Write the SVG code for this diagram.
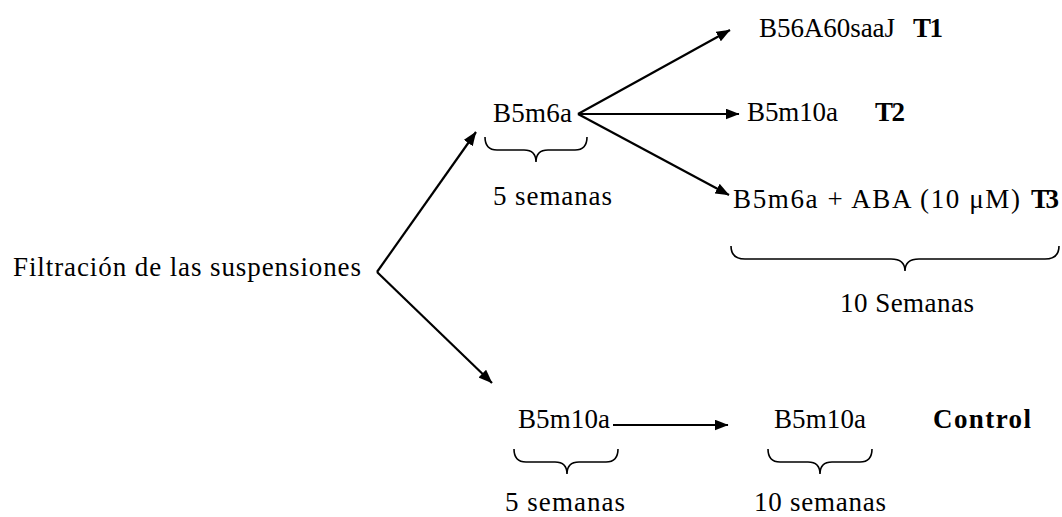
<svg xmlns="http://www.w3.org/2000/svg" width="1062" height="517" viewBox="0 0 1062 517">
  <style>
    text { font-family: "Liberation Serif", "DejaVu Serif", serif; font-size: 27px; fill: #000; }
    .b { font-weight: bold; }
    .line { stroke: #000; stroke-width: 2.2; fill: none; }
    .brace { stroke: #000; stroke-width: 1.6; fill: none; }
  </style>
  <defs>
    <marker id="arrow" viewBox="0 0 14 11" refX="13.5" refY="5.5" markerWidth="14" markerHeight="11" markerUnits="userSpaceOnUse" orient="auto">
      <path d="M0,0 L14,5.5 L0,11 Z" fill="#000"/>
    </marker>
  </defs>

  <rect width="1062" height="517" fill="#fff"/>

  <!-- connectors -->
  <g id="connectors">
    <line class="line" x1="377" y1="272" x2="476" y2="132" marker-end="url(#arrow)"/>
    <line class="line" x1="377" y1="272" x2="492" y2="383" marker-end="url(#arrow)"/>
    <line class="line" x1="578" y1="114" x2="730" y2="30" marker-end="url(#arrow)"/>
    <line class="line" x1="578" y1="114" x2="739" y2="114" marker-end="url(#arrow)"/>
    <line class="line" x1="578" y1="114" x2="729" y2="195" marker-end="url(#arrow)"/>
    <line class="line" x1="613" y1="425" x2="728" y2="425" marker-end="url(#arrow)"/>
  </g>

  <!-- braces -->
  <g id="braces">
    <path class="brace" d="M485,137 Q485,150 497,150 L524,150 Q536,150 536,162 Q536,150 548,150 L575,150 Q587,150 587,137"/>
    <path class="brace" d="M731,246 Q731,259 745,259 L891,259 Q905,259 905,271 Q905,259 919,259 L1045,259 Q1059,259 1059,246"/>
    <path class="brace" d="M514,449 Q514,462 526,462 L555,462 Q567,462 567,474 Q567,462 579,462 L606,462 Q618,462 618,449"/>
    <path class="brace" d="M768,449 Q768,462 780,462 L808,462 Q820,462 820,474 Q820,462 832,462 L860,462 Q872,462 872,449"/>
  </g>

  <g id="source">
    <text x="13" y="276" textLength="348">Filtración de las suspensiones</text>
  </g>

  <g id="b5m6a">
    <text x="493" y="122" textLength="79">B5m6a</text>
    <text x="493" y="205" textLength="119">5 semanas</text>
  </g>

  <g id="t1">
    <text x="759" y="37" textLength="136">B56A60saaJ</text>
    <text class="b" x="913" y="37" textLength="30">T1</text>
  </g>

  <g id="t2">
    <text x="747" y="121" textLength="91">B5m10a</text>
    <text class="b" x="875" y="121" textLength="30">T2</text>
  </g>

  <g id="t3">
    <text x="733" y="208" textLength="287">B5m6a + ABA (10 μM)</text>
    <text class="b" x="1031" y="208" textLength="28">T3</text>
    <text x="840" y="312" textLength="134">10 Semanas</text>
  </g>

  <g id="b5m10a-start">
    <text x="518" y="428" textLength="92">B5m10a</text>
    <text x="505" y="511" textLength="120">5 semanas</text>
  </g>

  <g id="control">
    <text x="774" y="428" textLength="92">B5m10a</text>
    <text class="b" x="933" y="428" textLength="98">Control</text>
    <text x="754" y="511" textLength="132">10 semanas</text>
  </g>
</svg>
